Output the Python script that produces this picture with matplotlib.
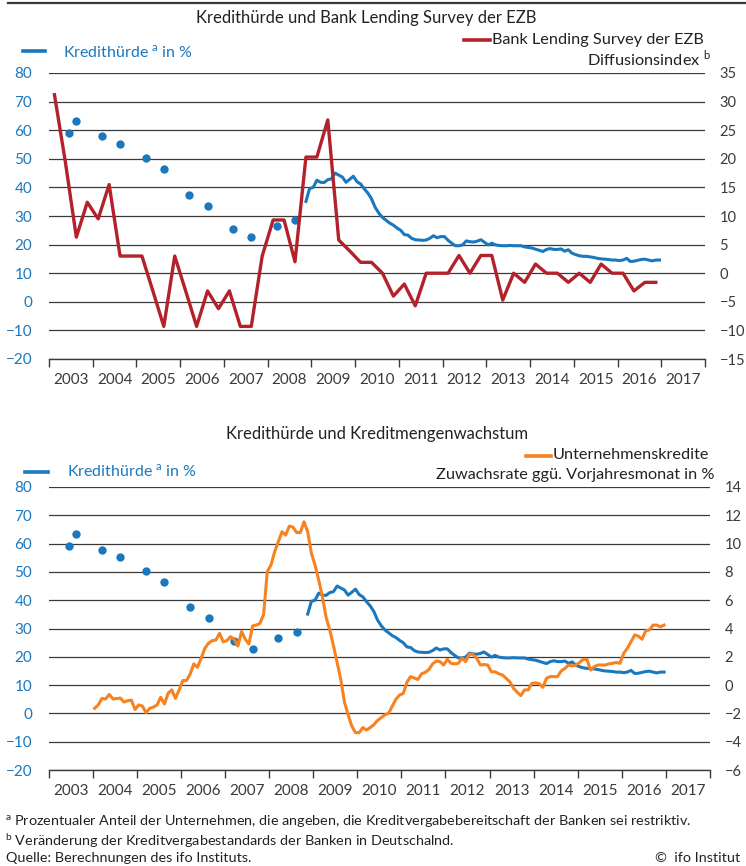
import matplotlib.pyplot as plt
from matplotlib.lines import Line2D
import numpy as np
import pandas as pd

plt.rcParams['font.family'] = ['Lato', 'DejaVu Sans']
plt.rcParams['mathtext.fontset'] = 'custom'
plt.rcParams['mathtext.rm'] = 'Lato'

BLUE = '#1a78be'
RED = '#b3212b'
ORANGE = '#f7821f'
GREY = '#3a3a3a'
TXT = '#222222'

# Kredithürde (%), Einzelwerte bis 2008
kh_dot_months = ['2003-06', '2003-08', '2004-03', '2004-08', '2005-03', '2005-08',
                 '2006-03', '2006-08', '2007-03', '2007-08', '2008-03', '2008-08']
kh_dot_values = [59.1, 63.3, 57.8, 55.3, 50.2, 46.4, 37.5, 33.6, 25.6, 22.8, 26.6, 28.7]

# Kredithürde (%), monatlich ab Nov 2008
kh_line_start = '2008-11'
kh_line_values = [
    35.1, 39.6,
    40.0, 42.5, 41.8, 41.7, 42.7, 43.0, 45.0, 44.3, 43.6, 41.8, 42.8, 43.9,
    42.0, 41.2, 39.5, 38.0, 36.0, 33.0, 31.0, 29.5, 28.5, 27.5, 26.8, 25.8,
    25.0, 23.5, 23.3, 22.2, 21.7, 21.6, 21.5, 21.6, 22.2, 23.1, 22.4, 22.8,
    22.8, 21.5, 20.5, 19.6, 19.6, 19.9, 21.3, 21.0, 20.9, 21.2, 21.7, 20.8,
    19.9, 20.5, 19.9, 19.7, 19.6, 19.6, 19.7, 19.6, 19.6, 19.6, 19.2, 19.0,
    18.8, 18.4, 18.0, 17.6, 18.3, 18.6, 18.3, 18.3, 18.5, 17.7, 18.2, 17.0,
    16.5, 16.1, 15.9, 15.9, 15.7, 15.5, 15.2, 15.0, 14.9, 14.8, 14.6, 14.6,
    14.4, 14.6, 15.2, 14.1, 14.2, 14.5, 14.8, 14.9, 14.6, 14.3, 14.6, 14.6,
]

# Bank Lending Survey der EZB, Diffusionsindex, quartalsweise ab Q1 2003
bls_start = '2003-02'
bls_values = [
    31.2, 19.4, 6.3, 12.4,
    9.5, 15.5, 3.0, 3.0,
    3.0, -3.1, -9.3, 3.0,
    -3.1, -9.3, -3.1, -6.2,
    -3.1, -9.3, -9.3, 3.0,
    9.3, 9.3, 2.0, 20.3,
    20.3, 26.8, 5.8, 3.9,
    1.9, 1.9, 0.0, -4.0,
    -1.9, -5.7, 0.0, 0.0,
    0.0, 3.1, 0.0, 3.1,
    3.1, -4.7, 0.0, -1.6,
    1.6, 0.0, 0.0, -1.6,
    0.0, -1.6, 1.6, 0.0,
    0.0, -3.1, -1.6, -1.6,
]

# Unternehmenskredite, Zuwachsrate ggü. Vorjahresmonat (%), monatlich ab Jan 2004
uk_start = '2004-01'
uk_values = [
    -1.64, -1.40, -0.94, -0.98, -0.66, -0.98, -0.95, -0.92, -1.20, -1.10, -1.06, -1.72,
    -1.40, -1.48, -1.95, -1.64, -1.56, -1.40, -0.86, -1.34, -0.58, -0.34, -0.94, -0.34,
    0.32, 0.32, 0.78, 1.50, 1.26, 1.90, 2.60, 2.96, 3.14, 3.18, 3.66, 3.06,
    3.14, 3.42, 3.24, 2.76, 3.78, 3.24, 2.90, 4.18, 4.24, 4.36, 5.00, 8.02,
    8.48, 9.42, 10.14, 10.84, 10.60, 11.24, 11.16, 10.78, 10.78, 11.54, 10.84, 9.32,
    8.48, 7.42, 6.24, 4.80, 3.90, 2.80, 1.60, 0.40, -1.20, -2.10, -2.90, -3.36,
    -3.36, -3.00, -3.18, -3.00, -2.80, -2.50, -2.30, -2.10, -2.00, -1.50, -1.00, -0.70,
    -0.60, 0.20, 0.60, 0.50, 0.40, 0.80, 0.90, 1.10, 1.50, 1.70, 1.66, 1.42,
    1.82, 1.54, 1.50, 1.54, 1.90, 1.66, 2.20, 2.15, 1.90, 1.42, 1.45, 1.42,
    0.94, 0.94, 0.80, 0.72, 0.48, 0.24, -0.22, -0.50, -0.74, -0.34, -0.34, 0.12,
    0.16, 0.10, -0.16, 0.48, 0.60, 0.60, 0.60, 1.00, 1.18, 1.42, 1.35, 1.42,
    1.60, 1.82, 1.82, 1.06, 1.30, 1.42, 1.42, 1.42, 1.50, 1.54, 1.60, 1.54,
    2.24, 2.60, 3.06, 3.54, 3.46, 3.24, 3.84, 3.90, 4.24, 4.24, 4.12, 4.24,
]

years = list(range(2003, 2018))


def month_pos(periods):
    # Monatsmitte als Dezimaljahr
    return np.array([p.year + (p.month - 0.5) / 12 for p in periods])


kh_dot_x = month_pos(pd.PeriodIndex(kh_dot_months, freq='M'))
kh_line_x = month_pos(pd.period_range(kh_line_start, periods=len(kh_line_values), freq='M'))
bls_x = month_pos(pd.period_range(bls_start, periods=3 * len(bls_values), freq='M')[::3])
uk_x = month_pos(pd.period_range(uk_start, periods=len(uk_values), freq='M'))


def setup(ax, ax2, rlim, rticks):
    ax.set_xlim(2003, 2018)
    ax.set_ylim(-20, 80)
    ax.set_yticks(range(-20, 81, 10))
    ax2.set_ylim(*rlim)
    ax2.set_yticks(rticks)
    ax.grid(axis='y', color=GREY, lw=0.9)
    ax.set_axisbelow(True)
    for s in ['top', 'left', 'right']:
        ax.spines[s].set_visible(False)
        ax2.spines[s].set_visible(False)
    ax2.spines['bottom'].set_visible(False)
    ax.spines['bottom'].set_color(GREY)
    ax.spines['bottom'].set_linewidth(1.0)
    ax.tick_params(axis='y', length=0, labelcolor=BLUE, labelsize=11, pad=12)
    ax2.tick_params(axis='y', length=0, labelcolor=GREY, labelsize=10.5, pad=10.5)
    ax.set_xticks(range(2003, 2019))
    ax.set_xticklabels([])
    ax.set_xticks(np.arange(2003.5, 2018), minor=True)
    ax.set_xticklabels([str(y) for y in years], minor=True)
    ax.tick_params(axis='x', which='major', length=6, width=1.0, color=GREY)
    ax.tick_params(axis='x', which='minor', length=0, labelsize=11, labelcolor=GREY, pad=10)


fig = plt.figure(figsize=(7.46, 8.66), dpi=100)
W, H = 746, 866


def fx(px):
    return px / W


def fy(py):
    return 1 - py / H


SUP_A = r'$^{\mathrm{a}}$'
SUP_B = r'$^{\mathrm{b}}$'

# oberer Rahmen
fig.add_artist(Line2D([fx(8), 1.0], [fy(2.5), fy(2.5)], color=GREY, lw=1.6))

# --- Oben: Kredithürde und Bank Lending Survey ---
ax1 = fig.add_axes([fx(49), fy(359), fx(705) - fx(49), fy(73) - fy(359)])
ax1b = ax1.twinx()
setup(ax1, ax1b, (-15, 35), range(-15, 36, 5))
ax1.plot(kh_dot_x, kh_dot_values, 'o', color=BLUE, ms=6, mew=0)
ax1.plot(kh_line_x, kh_line_values, color=BLUE, lw=2.2)
ax1b.plot(bls_x, bls_values, color=RED, lw=2.4)

fig.text(fx(366), fy(18), 'Kredithürde und Bank Lending Survey der EZB', ha='center', va='center',
         fontsize=12, color=TXT)
fig.add_artist(Line2D([fx(23), fx(45)], [fy(51), fy(51)], color=BLUE, lw=2.6))
fig.text(fx(63), fy(52), 'Kredithürde ' + SUP_A + ' in %', ha='left', va='center', fontsize=11.5,
         color=BLUE)
fig.add_artist(Line2D([fx(464), fx(490)], [fy(40), fy(40)], color=RED, lw=2.6))
fig.text(fx(492), fy(40), 'Bank Lending Survey der EZB', ha='left', va='center', fontsize=11.7,
         color=TXT)
fig.text(fx(711), fy(59), 'Diffusionsindex ' + SUP_B, ha='right', va='center', fontsize=11.7, color=TXT)

# --- Unten: Kredithürde und Kreditmengenwachstum ---
ax2 = fig.add_axes([fx(48.7), fy(770), fx(710) - fx(48.7), fy(487) - fy(770)])
ax2b = ax2.twinx()
setup(ax2, ax2b, (-6, 14), range(-6, 15, 2))
ax2.plot(kh_dot_x, kh_dot_values, 'o', color=BLUE, ms=6, mew=0)
ax2.plot(kh_line_x, kh_line_values, color=BLUE, lw=2.2)
ax2b.plot(uk_x, uk_values, color=ORANGE, lw=2.2)

fig.text(fx(377), fy(434), 'Kredithürde und Kreditmengenwachstum', ha='center', va='center',
         fontsize=12, color=TXT)
fig.add_artist(Line2D([fx(25), fx(48)], [fy(472), fy(472)], color=BLUE, lw=2.6))
fig.text(fx(67), fy(471), 'Kredithürde ' + SUP_A + ' in %', ha='left', va='center', fontsize=11.5,
         color=BLUE)
fig.add_artist(Line2D([fx(526), fx(551)], [fy(456), fy(456)], color=ORANGE, lw=2.6))
fig.text(fx(553), fy(455), 'Unternehmenskredite', ha='left', va='center', fontsize=11.7, color=TXT)
fig.text(fx(714), fy(475), 'Zuwachsrate ggü. Vorjahresmonat in %', ha='right', va='center',
         fontsize=11.7, color=TXT)

# Fußnoten
fig.text(fx(5), fy(822), SUP_A + ' Prozentualer Anteil der Unternehmen, die angeben, die '
         'Kreditvergabebereitschaft der Banken sei restriktiv.',
         ha='left', va='center', fontsize=10.4, color=TXT)
fig.text(fx(5), fy(841), SUP_B + ' Veränderung der Kreditvergabestandards der Banken in Deutschalnd.',
         ha='left', va='center', fontsize=10.4, color=TXT)
fig.text(fx(6), fy(858), 'Quelle: Berechnungen des ifo Instituts.', ha='left', va='center',
         fontsize=10.4, color=TXT)
fig.text(fx(740), fy(858), '©  ifo Institut', ha='right', va='center', fontsize=10.4, color=TXT)

fig.savefig('out.png', dpi=100)
plt.close('all')
